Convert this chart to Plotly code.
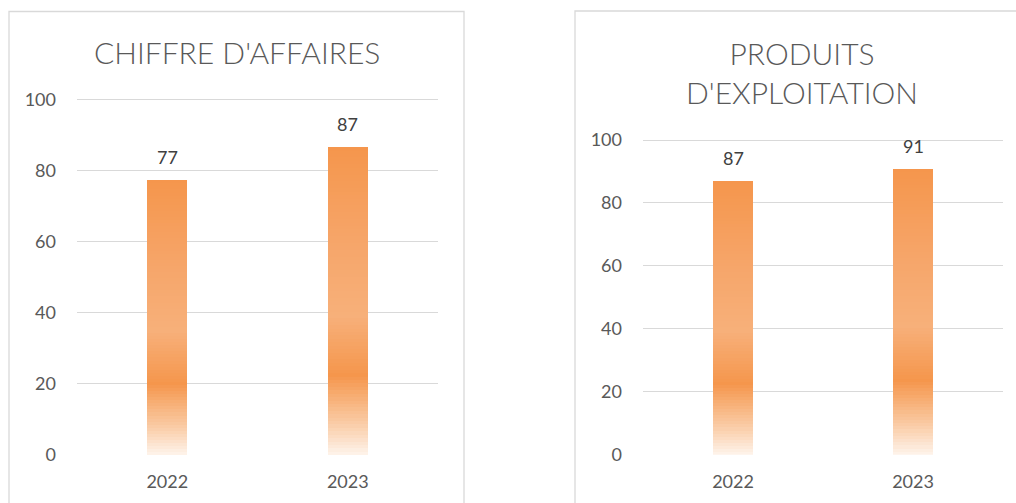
import plotly.graph_objects as go

# ---- data ----
years = ["2022", "2023"]
chiffre_affaires = [77.3, 86.6]
produits_exploitation = [87.0, 90.8]
title_left = "CHIFFRE D'AFFAIRES"
title_right = "PRODUITS<br>D'EXPLOITATION"
y_ticks = [0, 20, 40, 60, 80, 100]

W, H = 1016, 503
FONT = "Lato"
TXT = "#595959"
GRID = "#D9D9D9"
YMAX = 101.0

# gradient stops (fraction from bottom of bar, rgb)
stops = [
    (0.00, (254, 244, 236)),
    (0.10, (250, 205, 168)),
    (0.26, (245, 150, 76)),
    (0.45, (247, 176, 122)),
    (0.70, (246, 165, 105)),
    (1.00, (245, 150, 76)),
]


def grad(f):
    for (a, ca), (b, cb) in zip(stops[:-1], stops[1:]):
        if a <= f <= b:
            t = (f - a) / (b - a)
            c = [round(ca[k] + (cb[k] - ca[k]) * t) for k in range(3)]
            return "rgb(%d,%d,%d)" % tuple(c)
    return "rgb(%d,%d,%d)" % stops[-1][1]


def px(x0, x1):
    return [x0 / W, x1 / W]


def py(y100, y0):
    ytop = y0 - (y0 - y100) * YMAX / 100.0
    return [1 - y0 / H, 1 - ytop / H]


fig = go.Figure()
N = 90
BW = 0.222
annotations = []


def add_panel(vals, xa, ya):
    for i in range(N):
        fig.add_trace(go.Bar(
            x=years, y=[v / N for v in vals], base=[v * i / N for v in vals],
            width=BW, marker=dict(color=grad((i + 0.5) / N), line=dict(width=0)),
            xaxis=xa, yaxis=ya, showlegend=False, hoverinfo="skip"))
    for k, v in enumerate(vals):
        annotations.append(dict(
            text="%.0f" % v, x=k, y=v, xref=xa, yref=ya, xanchor="center",
            yanchor="bottom", yshift=10, showarrow=False,
            font=dict(family=FONT, size=18, color="#404040")))


add_panel(chiffre_affaires, "x", "y")
add_panel(produits_exploitation, "x2", "y2")

axis_common_x = dict(type="category", range=[-0.5, 1.5], showgrid=False, zeroline=False,
                     showline=False, ticks="", ticklabelstandoff=14, automargin=False,
                     tickfont=dict(family=FONT, size=18, color=TXT), fixedrange=True)
axis_common_y = dict(range=[0, YMAX], tickvals=y_ticks, showgrid=True, gridcolor=GRID,
                     gridwidth=1.3, zeroline=False, showline=False, ticks="",
                     ticklabelstandoff=20, automargin=False,
                     tickfont=dict(family=FONT, size=18, color=TXT), fixedrange=True)

annotations += [
    dict(text=title_left, x=236.5 / W, y=1 - 52 / H, xref="paper", yref="paper",
         xanchor="center", yanchor="middle", showarrow=False,
         font=dict(family=FONT, size=30, color=TXT, weight=300)),
    dict(text=title_right, x=802 / W, y=1 - 72.5 / H, xref="paper", yref="paper",
         xanchor="center", yanchor="middle", showarrow=False,
         font=dict(family=FONT, size=30, color=TXT, weight=300)),
]

fig.update_layout(
    template="none",
    width=W, height=H, margin=dict(l=0, r=0, t=0, b=0, autoexpand=False),
    paper_bgcolor="white", plot_bgcolor="white", barmode="overlay", bargap=0,
    showlegend=False,
    xaxis=dict(domain=px(77, 438), anchor="y", **axis_common_x),
    yaxis=dict(domain=py(99.3, 455), anchor="x", **axis_common_y),
    xaxis2=dict(domain=px(643, 1003), anchor="y2", **axis_common_x),
    yaxis2=dict(domain=py(140, 454.7), anchor="x2", **axis_common_y),
    annotations=annotations,
    shapes=[
        dict(type="rect", xref="paper", yref="paper", x0=9 / W, x1=464 / W,
             y0=-0.05, y1=1 - 11.5 / H, line=dict(color=GRID, width=1.3)),
        dict(type="rect", xref="paper", yref="paper", x0=575 / W, x1=1.05,
             y0=-0.05, y1=1 - 11 / H, line=dict(color=GRID, width=1.3)),
    ],
)

fig.write_html("out.html", config={"displayModeBar": False},
               post_script="document.body.style.margin='0';")
